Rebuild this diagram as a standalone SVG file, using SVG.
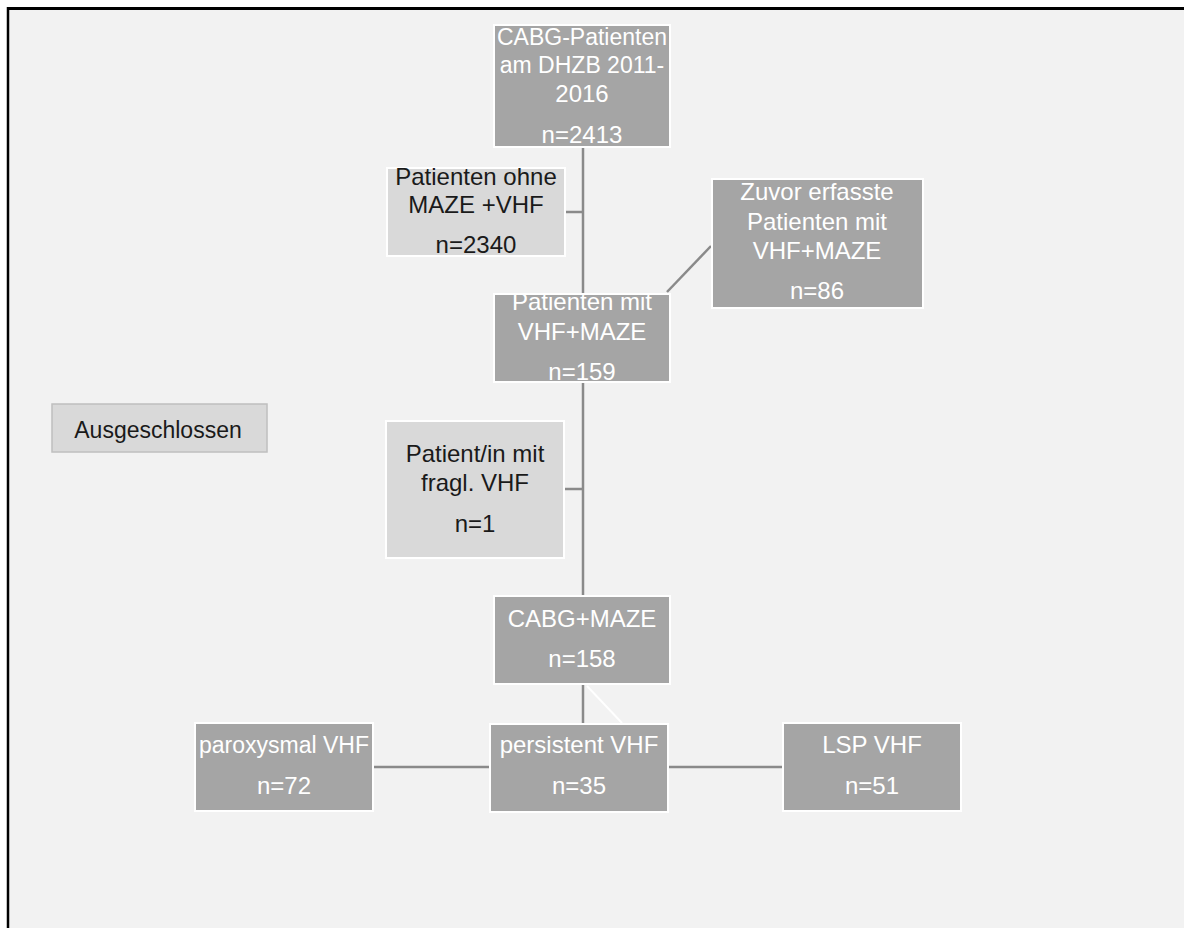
<svg xmlns="http://www.w3.org/2000/svg" width="1184" height="928" viewBox="0 0 1184 928">
<style>
.dk rect{fill:#a5a5a5;stroke:#ffffff;stroke-width:2}
.lt rect{fill:#d9d9d9;stroke:#ffffff;stroke-width:2}
.dk text{fill:#ffffff;font-family:"Liberation Sans",Arial,sans-serif;font-size:24px;text-anchor:middle}
.lt text{fill:#1a1a1a;font-family:"Liberation Sans",Arial,sans-serif;font-size:24px;text-anchor:middle}
.dk text.sm{font-size:23px}
.ln{stroke:#8a8a8a;stroke-width:2.5;fill:none}
</style>
<rect x="0" y="0" width="1184" height="928" fill="#ffffff"/>
<rect x="8" y="8.5" width="1176" height="919.5" fill="#f2f2f2"/>
<line x1="7" y1="8.5" x2="1184" y2="8.5" stroke="#000000" stroke-width="3"/>
<line x1="8" y1="7" x2="8" y2="928" stroke="#000000" stroke-width="2.5"/>
<g id="connectors">
<line class="ln" x1="583" y1="147" x2="583" y2="294"/>
<line class="ln" x1="565" y1="212" x2="583" y2="212"/>
<line class="ln" x1="667" y1="292" x2="711" y2="246"/>
<line class="ln" x1="583" y1="382" x2="583" y2="596"/>
<line class="ln" x1="564" y1="489" x2="583" y2="489"/>
<line class="ln" x1="583" y1="684" x2="583" y2="724"/>
<line x1="587" y1="686" x2="622" y2="723" stroke="#ffffff" stroke-width="2"/>
<line class="ln" x1="373" y1="767" x2="490" y2="767"/>
<line class="ln" x1="668" y1="767" x2="783" y2="767"/>
</g>
<g id="n_cabg" class="dk">
<rect x="494" y="25" width="176" height="122"/>
<text class="sm" x="582" y="45">CABG-Patienten</text>
<text class="sm" x="582" y="73">am DHZB 2011-</text>
<text x="582" y="102">2016</text>
<text x="582" y="143">n=2413</text>
</g>
<g id="n_ohne" class="lt">
<rect x="387" y="168" width="178" height="88"/>
<text x="476" y="185">Patienten ohne</text>
<text x="476" y="213">MAZE +VHF</text>
<text x="476" y="253">n=2340</text>
</g>
<g id="n_zuvor" class="dk">
<rect x="712" y="179" width="211" height="129"/>
<text x="817" y="200">Zuvor erfasste</text>
<text x="817" y="230">Patienten mit</text>
<text x="817" y="259">VHF+MAZE</text>
<text x="817" y="299">n=86</text>
</g>
<g id="n_mit" class="dk">
<rect x="494" y="294" width="176" height="88"/>
<text x="582" y="310">Patienten mit</text>
<text x="582" y="340">VHF+MAZE</text>
<text x="582" y="380">n=159</text>
</g>
<g id="n_ausgeschlossen">
<rect x="52" y="404" width="215" height="48" fill="#d9d9d9" stroke="#bfbfbf" stroke-width="1.5"/>
<text x="158" y="438" fill="#1a1a1a" font-family="Liberation Sans, Arial, sans-serif" font-size="23" text-anchor="middle">Ausgeschlossen</text>
</g>
<g id="n_fragl" class="lt">
<rect x="386" y="421" width="178" height="137"/>
<text x="475" y="462">Patient/in mit</text>
<text x="475" y="491">fragl. VHF</text>
<text x="475" y="532">n=1</text>
</g>
<g id="n_cabgmaze" class="dk">
<rect x="494" y="596" width="176" height="88"/>
<text x="582" y="627">CABG+MAZE</text>
<text x="582" y="667">n=158</text>
</g>
<g id="n_parox" class="dk">
<rect x="195" y="723" width="178" height="88"/>
<text class="sm" x="284" y="753">paroxysmal VHF</text>
<text x="284" y="794">n=72</text>
</g>
<g id="n_persist" class="dk">
<rect x="490" y="724" width="178" height="88"/>
<text x="579" y="753">persistent VHF</text>
<text x="579" y="794">n=35</text>
</g>
<g id="n_lsp" class="dk">
<rect x="783" y="723" width="178" height="88"/>
<text x="872" y="753">LSP VHF</text>
<text x="872" y="794">n=51</text>
</g>
</svg>
